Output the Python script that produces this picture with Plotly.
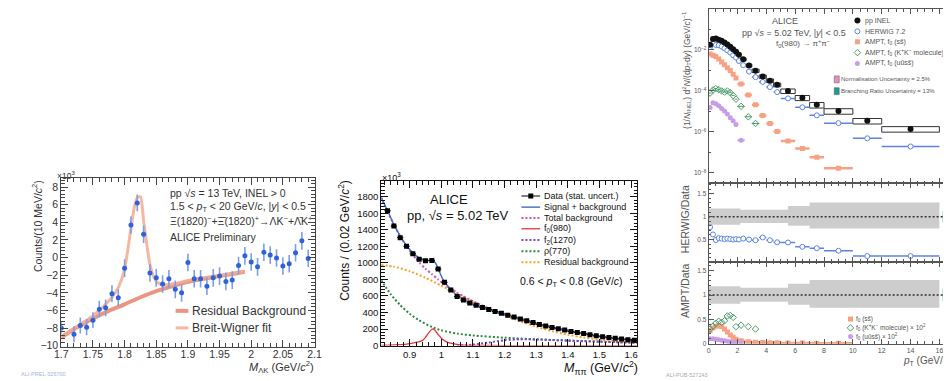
import plotly.graph_objects as go

W, H = 951, 381
FONT = "Liberation Sans, Arial, Helvetica, sans-serif"

# ---------------- Panel 1 : Xi(1820) -> Lambda K invariant mass ----------------
xi_mass = [1.700, 1.720, 1.730, 1.740, 1.750, 1.760, 1.770, 1.780, 1.790, 1.800,
           1.810, 1.820, 1.830, 1.840, 1.850, 1.860, 1.870, 1.880, 1.890, 1.900,
           1.910, 1.920, 1.930, 1.940, 1.950, 1.960, 1.970, 1.980, 1.990, 2.000,
           2.010, 2.020, 2.030, 2.040, 2.050, 2.060, 2.070, 2.080, 2.090]
xi_counts = [-8.0, -8.7, -7.7, -7.9, -7.1, -5.85, -5.7, -4.1, -4.55, -1.2,
             3.7, 6.2, 2.65, -1.75, -2.3, -3.0, -2.4, -3.6, -4.0, -0.55,
             -2.4, -2.4, -3.25, -2.3, -2.1, -2.7, -2.55, -0.9, 0.2, -0.5,
             -1.05, 0.6, 0.3, -0.05, -0.95, -0.7, 0.55, 1.9, -0.1]
xi_err = [0.7, 0.9, 0.9, 0.9, 0.9, 0.95, 0.95, 0.95, 0.95, 1.0,
          1.0, 0.95, 1.0, 1.0, 1.0, 1.0, 1.0, 1.0, 1.0, 1.0,
          1.0, 1.0, 1.0, 1.0, 1.0, 1.0, 1.0, 1.0, 1.0, 1.0,
          1.0, 1.0, 1.0, 1.0, 1.0, 1.0, 1.0, 1.0, 1.0]
xi_bkg_mass = [1.70, 1.725, 1.75, 1.775, 1.80, 1.825, 1.85, 1.875, 1.90, 1.925, 1.95, 1.975, 1.99]
xi_bkg = [-9.05, -7.9, -6.9, -6.05, -5.3, -4.5, -3.8, -3.25, -2.75, -2.4, -2.1, -1.8, -1.6]
xi_bw_mass = [1.70, 1.73, 1.75, 1.77, 1.78, 1.79, 1.80, 1.81, 1.815, 1.82, 1.825, 1.83,
              1.835, 1.84, 1.845, 1.85, 1.86, 1.88, 1.90, 1.95, 1.99]
xi_bw = [-8.95, -7.6, -6.6, -5.3, -4.5, -3.4, -1.3, 3.3, 5.6, 6.8, 6.9, 4.2,
         1.5, -0.8, -2.0, -2.7, -3.1, -2.95, -2.6, -2.0, -1.55]

# ---------------- Panel 2 : pi pi invariant mass, f0(980) ----------------
pipi_mass = [0.83, 0.85, 0.87, 0.89, 0.91, 0.93, 0.95, 0.97, 0.99, 1.01,
             1.03, 1.05, 1.07, 1.09, 1.11, 1.13, 1.15, 1.17, 1.19, 1.21,
             1.23, 1.25, 1.27, 1.29, 1.31, 1.33, 1.35, 1.37, 1.39, 1.41,
             1.43, 1.45, 1.47, 1.49, 1.51, 1.53, 1.55, 1.57, 1.59, 1.61]
pipi_counts = [1630, 1445, 1305, 1200, 1110, 1045, 1025, 1030, 925, 765,
               672, 595, 550, 515, 487, 460, 437, 413, 390, 368,
               345, 322, 300, 278, 255, 237, 220, 204, 188, 172,
               158, 145, 132, 118, 106, 97, 88, 80, 72, 65]
pipi_err = [25, 24, 23, 22, 21, 20, 20, 20, 19, 18,
            17, 16, 15, 15, 14, 14, 13, 13, 13, 12,
            12, 12, 11, 11, 11, 10, 10, 10, 10, 9,
            9, 9, 9, 8, 8, 8, 8, 8, 7, 7]
sigbkg_mass = [0.81, 0.83, 0.85, 0.87, 0.89, 0.91, 0.93, 0.95, 0.965, 0.975, 0.985, 0.995,
               1.005, 1.015, 1.03, 1.05, 1.07, 1.09, 1.11, 1.15, 1.20, 1.25, 1.30, 1.35,
               1.40, 1.45, 1.50, 1.55, 1.62]
sigbkg = [1790, 1630, 1465, 1325, 1210, 1120, 1062, 1035, 1030, 1028, 975, 885,
          800, 745, 680, 605, 555, 515, 485, 437, 379, 322, 266, 220,
          180, 145, 112, 88, 62]
totbkg_mass = [0.81, 0.83, 0.85, 0.87, 0.89, 0.91, 0.93, 0.95, 0.97, 0.99, 1.01, 1.03, 1.05,
               1.07, 1.09, 1.11, 1.15, 1.20, 1.25, 1.30, 1.35, 1.40, 1.45, 1.50, 1.55, 1.62]
totbkg = [1790, 1620, 1460, 1320, 1200, 1095, 1005, 930, 865, 800, 740, 688, 640,
          596, 556, 520, 450, 379, 322, 266, 220, 180, 145, 112, 88, 62]
f0_mass = [0.81, 0.85, 0.89, 0.92, 0.94, 0.95, 0.96, 0.97, 0.975, 0.98, 0.99, 1.00,
           1.01, 1.02, 1.04, 1.06, 1.10, 1.20, 1.40, 1.62]
f0_counts = [4, 8, 18, 38, 60, 100, 155, 198, 200, 185, 135, 90,
             60, 40, 20, 10, 4, 1, 0, 0]
f2_mass = [1.05, 1.10, 1.15, 1.20, 1.25, 1.30, 1.35, 1.40, 1.45, 1.50, 1.55, 1.62]
f2_counts = [0, 12, 38, 65, 76, 74, 68, 62, 55, 49, 43, 36]
rho_mass = [0.81, 0.84, 0.87, 0.90, 0.93, 0.97, 1.00, 1.05, 1.10, 1.20, 1.30, 1.40, 1.50, 1.62]
rho_counts = [790, 620, 490, 385, 305, 225, 185, 145, 123, 95, 76, 60, 47, 34]
resid_mass = [0.81, 0.85, 0.90, 0.95, 1.00, 1.05, 1.10, 1.15, 1.20, 1.25, 1.30, 1.35,
              1.40, 1.45, 1.50, 1.55, 1.62]
resid_counts = [975, 955, 900, 820, 725, 625, 530, 445, 365, 295, 230, 175,
                132, 98, 72, 54, 38]

# ---------------- Panel 3 : f0(980) pT spectrum and model ratios ----------------
pt = [0.1, 0.3, 0.5, 0.7, 0.9, 1.1, 1.3, 1.5, 1.7, 1.9, 2.1, 2.4, 2.8,
      3.25, 3.75, 4.25, 4.75, 5.5, 6.5, 7.5, 9.0, 11.0, 14.0]
pt_halfwidth = [0.1, 0.1, 0.1, 0.1, 0.1, 0.1, 0.1, 0.1, 0.1, 0.1, 0.1, 0.2, 0.2,
                0.25, 0.25, 0.25, 0.25, 0.5, 0.5, 0.5, 1.0, 1.0, 2.0]
pp_yield = [1.8e-2, 3.4e-2, 3.6e-2, 3.2e-2, 2.8e-2, 2.35e-2, 1.85e-2, 1.45e-2, 1.1e-2,
            8.3e-3, 5.8e-3, 3.5e-3, 1.75e-3, 9.8e-4, 5.1e-4, 3.2e-4, 2.0e-4, 1.0e-4,
            4.7e-5, 2.1e-5, 1.05e-5, 3.5e-6, 1.4e-6]
pp_sys = [0.15, 0.12, 0.12, 0.12, 0.12, 0.12, 0.12, 0.12, 0.12, 0.12, 0.14, 0.15, 0.16,
          0.18, 0.18, 0.2, 0.2, 0.25, 0.28, 0.3, 0.3, 0.3, 0.3]
herwig_yield = [1.39e-2, 2.07e-2, 1.76e-2, 1.70e-2, 1.46e-2, 1.20e-2, 9.6e-3, 7.4e-3, 5.5e-3,
                4.2e-3, 2.9e-3, 1.82e-3, 8.8e-4, 4.75e-4, 2.78e-4, 1.55e-4, 8.8e-5, 4.35e-5,
                1.6e-5, 6.5e-6, 2.7e-6, 4.9e-7, 1.96e-7]
herwig_ratio = [0.77, 0.61, 0.49, 0.53, 0.52, 0.51, 0.52, 0.51, 0.50, 0.51, 0.50, 0.52, 0.50,
                0.485, 0.545, 0.485, 0.44, 0.435, 0.34, 0.31, 0.255, 0.14, 0.14]

ampt_pt = [0.1, 0.3, 0.5, 0.7, 0.9, 1.1, 1.3, 1.5, 1.7, 1.9, 2.25, 2.75, 3.25, 3.75,
           4.25, 4.75, 5.5, 6.5, 7.5, 9.0]
ampt_halfwidth = [0.1, 0.1, 0.1, 0.1, 0.1, 0.1, 0.1, 0.1, 0.1, 0.1, 0.25, 0.25, 0.25, 0.25,
                  0.25, 0.25, 0.5, 0.5, 0.5, 1.0]
ampt_ss_yield = [6.3e-3, 5.6e-3, 4.8e-3, 3.6e-3, 2.6e-3, 1.9e-3, 1.35e-3, 1.0e-3, 6.6e-4,
                 4.3e-4, 2.2e-4, 6.3e-5, 2.1e-5, 6.3e-6, 2.6e-6, 1.05e-6, 3.6e-7, 1.55e-7,
                 5.8e-8, 1.7e-8]
ampt_ss_ratio = [0.27, 0.32, 0.36, 0.37, 0.35, 0.30, 0.24, 0.18, 0.13, 0.09, 0.06, 0.04,
                 0.03, 0.025, 0.02, 0.02, 0.015, 0.012, 0.01, 0.008]
ampt_kk_pt = [0.1, 0.3, 0.5, 0.7, 0.9, 1.1, 1.3, 1.5, 1.7, 1.9, 2.25, 2.75, 3.25]
ampt_kk_yield = [7.9e-5, 1.12e-4, 1.32e-4, 1.17e-4, 1.0e-4, 8.9e-5, 1.0e-4, 8.3e-5, 6.0e-5,
                 4.0e-5, 1.78e-5, 5.5e-6, 2.6e-6]
ampt_kk_ratio = [0.30, 0.36, 0.42, 0.46, 0.44, 0.47, 0.57, 0.58, 0.54, 0.35, 0.38, 0.35, 0.30]
ampt_uu_pt = [0.1, 0.3, 0.5, 0.7, 0.9, 1.1, 1.3, 1.5, 1.7, 1.9, 2.25]
ampt_uu_yield = [1.58e-5, 2.7e-5, 2.4e-5, 1.9e-5, 1.41e-5, 1.05e-5, 7.6e-6, 5.0e-6, 3.5e-6,
                 2.3e-6, 3.9e-7]
ampt_uu_ratio = [0.10, 0.10, 0.09, 0.08, 0.07, 0.06, 0.05, 0.04, 0.03, 0.025, 0.02]

band_edges = [0.0, 2.2, 5.5, 7.0, 16.0]
band_hi = [1.18, 1.15, 1.23, 1.31]
band_lo = [0.82, 0.86, 0.80, 0.74]
norm_unc = 0.025
br_unc = 0.13
unc_box_pt = 16.35

# ---------------- styles ----------------
C1_MARK, C1_ERR = "#2f62d6", "#7d9ee8"
C1_BKG, C1_BW = "rgba(229,125,98,0.80)", "rgba(245,170,145,0.85)"
C2 = dict(blue="#3d6fc6", mag="#d055b8", red="#e3343c", pur="#7447c4", grn="#2b8a3e", org="#f7a128")
C3 = dict(blk="#111111", hw="#5d84e3", ss="#f7a183", kk="#4a9d6a", uu="#c99ce6",
          band="#cdcdcd", teal="#1a9c9c", pink="#ef8cc0", txt="#555555")
DOT = "2px,2px"

fig = go.Figure()


def sc(**kw):
    kw.setdefault("hoverinfo", "skip")
    kw.setdefault("showlegend", False)
    fig.add_trace(go.Scatter(**kw))


# Panel 1 traces
sc(x=xi_bkg_mass, y=xi_bkg, mode="lines", line=dict(color=C1_BKG, width=4, shape="spline", smoothing=0.8),
   xaxis="x", yaxis="y")
sc(x=xi_bw_mass, y=xi_bw, mode="lines", line=dict(color=C1_BW, width=3, shape="spline", smoothing=0.6),
   xaxis="x", yaxis="y")
sc(x=xi_mass, y=xi_counts, mode="markers", marker=dict(color=C1_MARK, size=5),
   error_y=dict(type="data", array=xi_err, color=C1_ERR, thickness=1.6, width=0),
   xaxis="x", yaxis="y")

# Panel 2 traces
p2_curves = [
    (resid_mass, resid_counts, dict(color=C2["org"], width=2, dash=DOT)),
    (rho_mass, rho_counts, dict(color=C2["grn"], width=2, dash=DOT)),
    (f2_mass, f2_counts, dict(color=C2["pur"], width=2, dash=DOT)),
    (f0_mass, f0_counts, dict(color=C2["red"], width=1.3)),
    (totbkg_mass, totbkg, dict(color=C2["mag"], width=2, dash=DOT)),
    (sigbkg_mass, sigbkg, dict(color=C2["blue"], width=1.4)),
]
for mx, my, ln in p2_curves:
    ln = dict(ln, shape="spline", smoothing=0.6)
    sc(x=mx, y=my, mode="lines", line=ln, xaxis="x2", yaxis="y2")
sc(x=pipi_mass, y=pipi_counts, mode="markers", marker=dict(color="black", symbol="square", size=5),
   error_y=dict(type="data", array=pipi_err, color="black", thickness=1, width=0),
   error_x=dict(type="constant", value=0.01, color="black", thickness=1, width=0),
   xaxis="x2", yaxis="y2")

# Panel 3 top: spectra
bx, by = [], []
for x, hw, y, s in zip(pt, pt_halfwidth, pp_yield, pp_sys):
    lo, hi = y * (1 - s), y * (1 + s)
    bx += [x - hw, x + hw, x + hw, x - hw, x - hw, None]
    by += [lo, lo, hi, hi, lo, None]
sc(x=bx, y=by, mode="lines", line=dict(color="#333333", width=1), xaxis="x3", yaxis="y3")
sc(x=ampt_pt, y=ampt_ss_yield, mode="markers", marker=dict(color=C3["ss"], symbol="square", size=5),
   error_x=dict(type="data", array=ampt_halfwidth, color=C3["ss"], thickness=2.5, width=0),
   xaxis="x3", yaxis="y3")
sc(x=ampt_kk_pt, y=ampt_kk_yield, mode="markers",
   marker=dict(color=C3["kk"], symbol="diamond-open", size=5, line=dict(width=1)),
   error_x=dict(type="data", array=ampt_halfwidth[:len(ampt_kk_pt)], color=C3["kk"], thickness=1, width=0),
   xaxis="x3", yaxis="y3")
sc(x=ampt_uu_pt, y=ampt_uu_yield, mode="markers", marker=dict(color=C3["uu"], size=5),
   error_x=dict(type="data", array=ampt_halfwidth[:len(ampt_uu_pt)], color=C3["uu"], thickness=2, width=0),
   xaxis="x3", yaxis="y3")
sc(x=pt, y=herwig_yield, mode="markers",
   marker=dict(color="white", symbol="circle", size=5, line=dict(color=C3["hw"], width=1)),
   error_x=dict(type="data", array=pt_halfwidth, color=C3["hw"], thickness=1.5, width=0),
   xaxis="x3", yaxis="y3")
sc(x=pt, y=pp_yield, mode="markers", marker=dict(color=C3["blk"], size=6), xaxis="x3", yaxis="y3")

# Panel 3 ratio panels
X3_RANGE = [0, 16.6]
for ya in ("y4", "y5"):
    xa = "x4" if ya == "y4" else "x5"
    sc(x=band_edges, y=band_lo + band_lo[-1:], mode="lines", line=dict(width=0, shape="hv"),
       xaxis=xa, yaxis=ya)
    sc(x=band_edges, y=band_hi + band_hi[-1:], mode="lines", line=dict(width=0, shape="hv"),
       fill="tonexty", fillcolor=C3["band"], xaxis=xa, yaxis=ya)
    sc(x=X3_RANGE, y=[1, 1], mode="lines", line=dict(color="#333333", width=1.5, dash=DOT),
       xaxis=xa, yaxis=ya)
    fig.add_trace(go.Bar(x=[unc_box_pt], y=[2 * br_unc], base=[1 - br_unc], width=[0.24],
                         marker=dict(color=C3["teal"], line=dict(width=0)), hoverinfo="skip",
                         showlegend=False, xaxis=xa, yaxis=ya))
    fig.add_trace(go.Bar(x=[unc_box_pt - 0.05], y=[2 * norm_unc], base=[1 - norm_unc], width=[0.1],
                         marker=dict(color=C3["pink"], line=dict(width=0)), hoverinfo="skip",
                         showlegend=False, xaxis=xa, yaxis=ya))

sc(x=pt, y=herwig_ratio, mode="markers",
   marker=dict(color="white", symbol="circle", size=5, line=dict(color=C3["hw"], width=1)),
   error_x=dict(type="data", array=pt_halfwidth, color=C3["hw"], thickness=1.5, width=0),
   xaxis="x4", yaxis="y4")
sc(x=ampt_pt, y=ampt_ss_ratio, mode="markers", marker=dict(color=C3["ss"], symbol="square", size=5),
   error_x=dict(type="data", array=ampt_halfwidth, color=C3["ss"], thickness=2.5, width=0),
   xaxis="x5", yaxis="y5")
sc(x=ampt_uu_pt, y=ampt_uu_ratio, mode="markers", marker=dict(color=C3["uu"], size=5),
   xaxis="x5", yaxis="y5")
sc(x=ampt_kk_pt, y=ampt_kk_ratio, mode="markers",
   marker=dict(color=C3["kk"], symbol="diamond-open", size=5, line=dict(width=1)),
   xaxis="x5", yaxis="y5")

# ---------------- legend keys on a pixel overlay ----------------
def key_line(x0, x1, y, line):
    sc(x=[x0, x1], y=[y, y], mode="lines", line=line, xaxis="x6", yaxis="y6")


def key_mark(x, y, marker):
    sc(x=[x], y=[y], mode="markers", marker=marker, xaxis="x6", yaxis="y6")


key_line(163, 176, 306.7, dict(color=C1_BKG, width=4))
key_line(163, 176, 324, dict(color=C1_BW, width=3))

p2_keys = [
    ("Data (stat. uncert.)", dict(color="black", width=1)),
    ("Signal + background", dict(color=C2["blue"], width=1.4)),
    ("Total background", dict(color=C2["mag"], width=2, dash=DOT)),
    ("f<sub>0</sub>(980)", dict(color=C2["red"], width=1.3)),
    ("f<sub>2</sub>(1270)", dict(color=C2["pur"], width=2, dash=DOT)),
    ("ρ(770)", dict(color=C2["grn"], width=2, dash=DOT)),
    ("Residual background", dict(color=C2["org"], width=2, dash=DOT)),
]
p2_key_y = [190, 201.3, 212.3, 223.3, 234.7, 246, 257.3]
for (lab, ln), yy in zip(p2_keys, p2_key_y):
    key_line(514, 533, yy, ln)
key_mark(523.5, p2_key_y[0], dict(color="black", symbol="square", size=5))

p3_keys = [
    ("pp INEL", dict(color=C3["blk"], size=6)),
    ("HERWIG 7.2", dict(color="white", size=5, line=dict(color=C3["hw"], width=1))),
    ("AMPT, f<sub>0</sub> (ss̄)", dict(color=C3["ss"], symbol="square", size=5)),
    ("AMPT, f<sub>0</sub> (K<sup>+</sup>K<sup>−</sup> molecule)",
     dict(color=C3["kk"], symbol="diamond-open", size=5, line=dict(width=1))),
    ("AMPT, f<sub>0</sub> (uūss̄)", dict(color=C3["uu"], size=5)),
]
p3_key_y = [11.7, 22.7, 33.3, 44.3, 55.3]
for (lab, mk), yy in zip(p3_keys, p3_key_y):
    key_mark(855, yy, mk)

p5_keys = [
    ("f<sub>0</sub> (ss̄)", dict(color=C3["ss"], symbol="square", size=5)),
    ("f<sub>0</sub> (K<sup>+</sup>K<sup>−</sup> molecule) × 10<sup>2</sup>",
     dict(color=C3["kk"], symbol="diamond-open", size=5, line=dict(width=1))),
    ("f<sub>0</sub> (uūss̄) × 10<sup>2</sup>", dict(color=C3["uu"], size=5)),
]
p5_key_y = [315, 324, 332.7]
for (lab, mk), yy in zip(p5_keys, p5_key_y):
    key_mark(848, yy, mk)

shapes = [
    dict(type="rect", xref="x6", yref="y6", x0=831.5, x1=836.5, y0=68, y1=75,
         fillcolor=C3["pink"], line=dict(color="#666", width=0.6)),
    dict(type="rect", xref="x6", yref="y6", x0=831.5, x1=836.5, y0=80, y1=87,
         fillcolor=C3["teal"], line=dict(color="#666", width=0.6)),
]

# ---------------- annotations ----------------
annotations = []


def label(x, y, text, size, color="#222222", xanchor="left", yanchor="middle", angle=0):
    annotations.append(dict(x=x, y=y, xref="x6", yref="y6", text=text, showarrow=False,
                            font=dict(family=FONT, size=size, color=color),
                            xanchor=xanchor, yanchor=yanchor, textangle=angle, borderpad=0))


T1 = "#333333"
label(42, 169, "×10<sup>3</sup>", 8.5, T1)
label(22, 173, "Counts/(10 MeV/<i>c</i><sup>2</sup>)", 10.5, T1, "center", "top", -90)
label(304, 364, "<i>M</i><sub>ΛK</sub> (GeV/<i>c</i><sup>2</sup>)", 11, T1, "right")
label(156, 187, "pp √<i>s</i> = 13 TeV, INEL &gt; 0", 10.5, T1)
label(156, 201.5, "1.5 &lt; <i>p</i><sub>T</sub> &lt; 20 GeV/<i>c</i>, |<i>y</i>| &lt; 0.5", 10.5, T1)
label(156, 214.5, "Ξ(1820)<sup>−</sup>+Ξ̄(1820)<sup>+</sup>→ΛK<sup>−</sup>+Λ̄K<sup>+</sup>", 10.5, T1)
label(156, 232, "ALICE Preliminary", 10.5, T1)
label(179, 306.7, "Residual Background", 12, T1)
label(179, 324, "Breit-Wigner fit", 12, T1)
label(5, 371, "ALI-PREL-326700", 5.5, "#9fb3dd")

T2 = "#111111"
label(371, 170.5, "×10<sup>3</sup>", 9, T2)
label(334, 173, "Counts / (0.02 GeV/<i>c</i><sup>2</sup>)", 12, T2, "center", "top", -90)
label(633, 365, "<i>M</i><sub>ππ</sub> (GeV/<i>c</i><sup>2</sup>)", 12.5, T2, "right")
label(440, 194, "ALICE", 13, T2, "center")
label(450, 210, "pp, √<i>s</i> = 5.02 TeV", 13, T2, "center")
for (lab, ln), yy in zip(p2_keys, p2_key_y):
    label(536, yy, lab, 9, T2)
label(512, 277, "0.6 &lt; <i>p</i><sub>T</sub> &lt; 0.8 (GeV/<i>c</i>)", 10.5, T2)

T3 = C3["txt"]
label(781, 11.7, "ALICE", 9, T3, "center")
label(791, 24, "pp √<i>s</i> = 5.02 TeV, |<i>y</i>| &lt; 0.5", 9, T3, "center")
label(800, 35.5, "f<sub>0</sub>(980) → π<sup>+</sup>π<sup>−</sup>", 8, T3, "center")
for (lab, mk), yy in zip(p3_keys, p3_key_y):
    label(862, yy, lab, 7, T3)
label(837.5, 71.5, "Normalisation Uncertainty = 2.5%", 6, T3)
label(837.5, 83.5, "Branching Ratio Uncertainty = 13%", 6, T3)
label(682, 1, "(1/<i>N</i><sub>INEL</sub>) d<sup>2</sup><i>N</i>/(d<i>p</i><sub>T</sub>d<i>y</i>) (GeV/<i>c</i>)<sup>−1</sup>",
      8.5, T3, "center", "top", -90)
label(680, 178, "HERWIG/Data", 10.5, T3, "center", "top", -90)
label(680, 258, "AMPT/Data", 10.5, T3, "center", "top", -90)
label(950.5, 358, "<i>p</i><sub>T</sub> (GeV/<i>c</i>)", 10, T3, "right")
for (lab, mk), yy in zip(p5_keys, p5_key_y):
    label(853, yy, lab, 6.5, T3)
label(660, 372, "ALI-PUB-527243", 5.5, "#aaaaaa")


# ---------------- axes ----------------
def dom_x(a, b):
    return [a / W, b / W]


def dom_y(top, bottom):
    return [1 - bottom / H, 1 - top / H]


def ax(domain, rng, anchor, color, lw, tlen, fsize, fcolor, dtick=None, minor_dtick=None,
       showlabels=True, tickvals=None, ticktext=None, minor_vals=None, typ="linear", standoff=0):
    d = dict(domain=domain, range=rng, anchor=anchor, type=typ, showgrid=False, zeroline=False,
             showline=True, linecolor=color, linewidth=lw, mirror="ticks", ticks="inside",
             ticklen=tlen, tickwidth=1, tickcolor=color, showticklabels=showlabels,
             tickfont=dict(family=FONT, size=fsize, color=fcolor), fixedrange=True)
    if standoff:
        d["ticklabelstandoff"] = standoff
    if tickvals is not None:
        d.update(tickmode="array", tickvals=tickvals, ticktext=ticktext)
    else:
        d.update(tickmode="linear", dtick=dtick, tick0=0)
    minor = dict(ticks="inside", ticklen=max(2, tlen * 0.5), tickcolor=color, showgrid=False)
    if minor_vals is not None:
        minor.update(tickmode="array", tickvals=minor_vals)
    elif minor_dtick is not None:
        minor.update(dtick=minor_dtick, tick0=0)
    d["minor"] = minor
    return d


P1X, P1Y = dom_x(47, 304), dom_y(172, 343)
P2X, P2Y = dom_x(371.7, 631.7), dom_y(175, 342)
P3X = dom_x(704, 947)
P3T, P3M, P3B = dom_y(0, 177), dom_y(177, 257), dom_y(257, 340)

layout = dict(
    width=W, height=H, autosize=False, margin=dict(l=0, r=0, t=0, b=0),
    paper_bgcolor="white", plot_bgcolor="rgba(0,0,0,0)", showlegend=False,
    font=dict(family=FONT), barmode="overlay",
    xaxis=ax(P1X, [1.7, 2.1], "y", "#444444", 1, 7, 10.5, T1, dtick=0.05, minor_dtick=0.01, standoff=-2),
    yaxis=ax(P1Y, [-10.1, 9.0], "x", "#444444", 1, 7, 10.5, T1, dtick=2, minor_dtick=0.4),
    xaxis2=ax(P2X, [0.81, 1.62], "y2", "#111111", 1, 7, 9.5, T2, dtick=0.1, minor_dtick=0.02),
    yaxis2=ax(P2Y, [0, 1987], "x2", "#111111", 1, 7, 9.5, T2, dtick=200, minor_dtick=40),
    xaxis3=ax(P3X, X3_RANGE, "y3", "#555555", 1, 5, 7, T3, dtick=2, minor_dtick=0.5, showlabels=False),
    yaxis3=ax(P3T, [-8.5, 0], "x3", "#555555", 1, 5, 6.5, T3, typ="log",
              tickvals=[1e-8, 1e-6, 1e-4, 1e-2],
              ticktext=["10<sup>−8</sup>", "10<sup>−6</sup>", "10<sup>−4</sup>", "10<sup>−2</sup>"],
              minor_vals=[1e-7, 1e-5, 1e-3, 1e-1]),
    xaxis4=ax(P3X, X3_RANGE, "y4", "#555555", 1, 5, 7, T3, dtick=2, minor_dtick=0.5, showlabels=False),
    yaxis4=ax(P3M, [0.01, 1.73], "x4", "#555555", 1, 5, 6.5, T3,
              tickvals=[0.5, 1, 1.5], ticktext=["0.5", "1", "1.5"], minor_vals=[0.1 * i for i in range(1, 18)]),
    xaxis5=ax(P3X, X3_RANGE, "y5", "#555555", 1, 5, 7, T3, dtick=2, minor_dtick=0.5),
    yaxis5=ax(P3B, [0, 1.68], "x5", "#555555", 1, 5, 6.5, T3,
              tickvals=[0, 0.5, 1, 1.5], ticktext=["0", "0.5", "1", "1.5"], minor_vals=[0.1 * i for i in range(1, 17)]),
    xaxis6=dict(domain=[0, 1], range=[0, W], anchor="y6", visible=False, fixedrange=True),
    yaxis6=dict(domain=[0, 1], range=[H, 0], anchor="x6", visible=False, fixedrange=True),
    annotations=annotations, shapes=shapes,
)
fig.update_layout(**layout)
fig.write_html("out.html")
